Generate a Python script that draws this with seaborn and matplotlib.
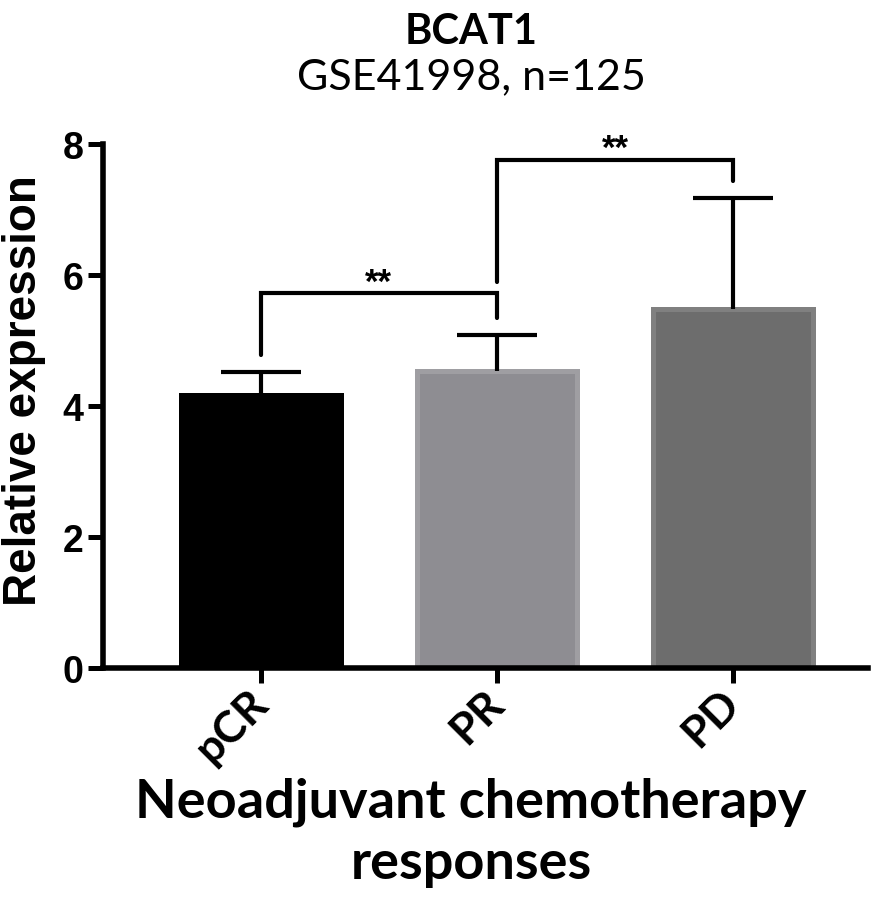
import numpy as np
import pandas as pd
import matplotlib
matplotlib.use("Agg")
import matplotlib.pyplot as plt
import seaborn as sns


# =========================
# DATA
# =========================

groups = ["pCR", "PR", "PD"]

means = [4.17, 4.54, 5.48]

upper_sd = [0.35, 0.55, 1.70]

# significance brackets: pair of groups, label, bar height, leg ends
pairs = [(0, 1), (1, 2)]

pair_labels = ["**", "**"]

pair_heights = [5.72, 7.76]

pair_legs = [(4.78, 5.34), (5.89, 7.44)]

y_ticks = [0, 2, 4, 6, 8]


# =========================
# STYLE
# =========================

fill_colors = ["#000000", "#8e8d92", "#6d6d6d"]

edge_colors = ["#000000", "#9f9ea2", "#808080"]

sns.set_style("ticks")

plt.rcParams["font.family"] = ["Liberation Sans", "DejaVu Sans"]

for key in ["text.color", "axes.labelcolor", "axes.edgecolor", "xtick.color", "ytick.color"]:
    plt.rcParams[key] = "black"

calibri_like = ["Lato", "DejaVu Sans"]


# =========================
# FIGURE
# =========================

df = pd.DataFrame({"group": groups, "value": means})

fig = plt.figure(figsize=(8.94, 9.04), dpi=100)

ax = fig.add_axes([0.1152, 0.2600, 0.8557, 0.5796])

sns.barplot(
    data=df,
    x="group",
    y="value",
    hue="group",
    palette=fill_colors,
    legend=False,
    width=0.675,
    saturation=1,
    errorbar=None,
    ax=ax
)

for patch, ec in zip(ax.patches, edge_colors):
    patch.set_edgecolor(ec)
    patch.set_linewidth(3.6)

# upper-only error bars (mean + SD)
eb = ax.errorbar(
    np.arange(len(groups)),
    means,
    yerr=[np.zeros(len(groups)), upper_sd],
    fmt="none",
    ecolor="black",
    elinewidth=3,
    capsize=29,
    capthick=3,
    zorder=3
)

for cap in eb[1]:
    if np.allclose(cap.get_ydata(), means):
        cap.set_visible(False)


# =========================
# SIGNIFICANCE
# =========================

for (i, j), lab, h, (l1, l2) in zip(pairs, pair_labels, pair_heights, pair_legs):

    ax.plot(
        [i, i, j, j],
        [l1, h, h, l2],
        color="black",
        lw=3,
        solid_joinstyle="miter",
        solid_capstyle="round",
        clip_on=False
    )

    ax.text(
        (i + j) / 2,
        h - 0.08,
        lab,
        ha="center",
        va="bottom",
        fontsize=25,
        fontweight="bold",
        clip_on=False
    )


# =========================
# AXES
# =========================

ax.set_xlim(-0.669, 2.572)

ax.set_ylim(0, 8)

ax.set_yticks(y_ticks)

ax.set_yticklabels([str(t) for t in y_ticks], fontsize=27, fontweight="bold")

sns.despine(ax=ax)

for side in ["left", "bottom"]:
    ax.spines[side].set_linewidth(4)

ax.tick_params(axis="both", width=3.6, length=11, color="black")

ax.tick_params(axis="y", pad=3)

ax.tick_params(axis="x", pad=9)

ax.set_xticks(range(len(groups)))

ax.set_xticklabels(
    groups,
    rotation=45,
    ha="right",
    va="center",
    rotation_mode="anchor",
    fontsize=32,
    fontweight="bold",
    family=calibri_like
)

ax.set_xlabel(
    "Neoadjuvant chemotherapy\nresponses",
    fontsize=39,
    fontweight="bold",
    family=calibri_like,
    linespacing=1.3
)

ax.xaxis.set_label_coords((471 - 103) / 765, (669 - 778) / 524)

ax.set_ylabel("Relative expression", fontsize=33, fontweight="bold")

ax.yaxis.set_label_coords(-0.074, 0.532)


# =========================
# TITLE
# =========================

fig.text(
    471 / 894,
    1 - 44 / 904,
    "BCAT1",
    ha="center",
    va="baseline",
    fontsize=30,
    fontweight="bold",
    family=calibri_like
)

fig.text(
    471 / 894,
    1 - 89 / 904,
    "GSE41998, n=125",
    ha="center",
    va="baseline",
    fontsize=31,
    family=calibri_like
)

fig.savefig("out.png", dpi=100)
